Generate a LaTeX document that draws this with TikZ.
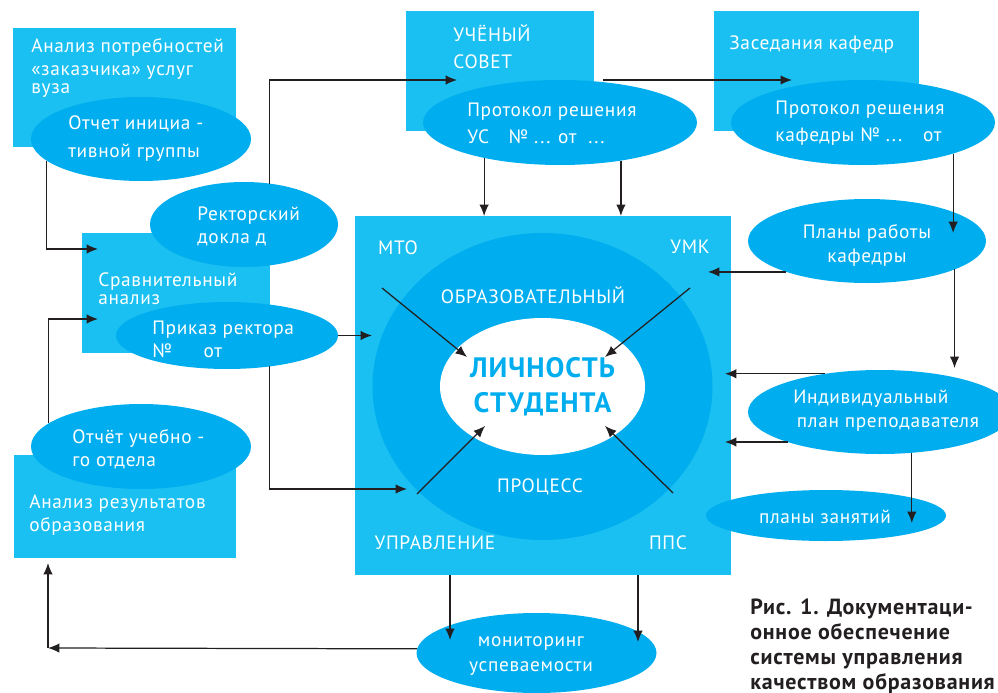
\documentclass[tikz,border=0pt]{standalone}
\usepackage{fontspec}
\setmainfont{PT Sans}[LetterSpace=3.5]
\usetikzlibrary{shapes.geometric,arrows.meta}
\definecolor{boxblue}{HTML}{19C0F1}
\definecolor{ovalblue}{HTML}{00ADEE}
\definecolor{linegray}{HTML}{231F20}
\tikzset{>={Latex[length=6.5pt,width=5.4pt]},
  wh/.style 2 args={minimum width=#1*0.02cm, minimum height=#2*0.02cm},
  box/.style={rectangle, fill=boxblue, inner sep=0pt, outer sep=0pt},
  oval/.style={ellipse, fill=ovalblue, inner sep=0pt, outer sep=0pt},
  txt/.style={text=white, font=\fontsize{11}{13}\selectfont, align=left, inner sep=0pt, anchor=west},
  tag/.style={text=white, font=\fontsize{11}{13}\selectfont, inner sep=0pt},
  flow/.style={->, draw=linegray, line width=0.7pt}}

\begin{document}
\begin{tikzpicture}[x=0.02cm, y=-0.02cm]
  \useasboundingbox (0,0) rectangle (998,693);

  % boxes
  \node[box, wh={223}{119}] (potreb) at (124.5,87.5) {};
  \node[box, wh={188}{120}] (sravn) at (176,293) {};
  \node[box, wh={222}{103}] (rezult) at (125,506.5) {};
  \node[box, wh={188}{120}] (sovet) at (500,71) {};
  \node[box, wh={205}{120}] (zased) at (816.5,71) {};
  \node[box, wh={376}{359}] (core) at (543,395.5) {};

  % ring and centre
  \node[oval, wh={340}{307}] (ring) at (542.5,386.5) {};
  \node[ellipse, fill=white, inner sep=0pt, wh={205}{137}, text=ovalblue,
        align=center, font=\bfseries\fontsize{16}{20}\selectfont] (person) at (542.5,386.5)
        {ЛИЧНОСТЬ\\СТУДЕНТА};

  % ovals
  \node[oval, wh={220}{84}] (otig) at (141,139) {};
  \node[oval, wh={188}{85}] (rektor) at (244,224.5) {};
  \node[oval, wh={222}{67}] (prikaz) at (227,335.5) {};
  \node[oval, wh={220}{85}] (otuo) at (141,446.5) {};
  \node[oval, wh={274}{85}] (usp) at (560,122.5) {};
  \node[oval, wh={264}{85}] (kafp) at (863,122.5) {};
  \node[oval, wh={238}{84}] (plany) at (867,241) {};
  \node[oval, wh={264}{84}] (ind) at (880,412) {};
  \node[oval, wh={240}{51}] (planyz) at (826,515.5) {};
  \node[oval, wh={240}{80}] (monit) at (536.5,653) {};

  % texts
  \node[txt] (potrebT) at (31,68) {Анализ потребностей\\«заказчика» услуг\\[-3pt]вуза};
  \node[txt] (otigT) at (68,138.5) {Отчет инициа -\\[2.5pt]тивной группы};
  \node[txt] (rektorT) at (197,226) {Ректорский\\докла д};
  \node[txt] (sravnT) at (98,288.5) {Сравнительный\\[-2.5pt]анализ};
  \node[txt] (prikazT) at (152,339.5) {Приказ ректора\\№\hspace{18pt}от};
  \node[txt] (otuoT) at (72,449.5) {Отчёт учебно -\\го отдела};
  \node[txt] (rezultT) at (29,515) {Анализ результатов\\образования};
  \node[txt] (sovetT) at (453,46.5) {УЧЁНЫЙ\\[2.5pt]СОВЕТ};
  \node[txt] (uspT) at (467,123.5) {Протокол решения\\[2.5pt]УС\hspace{11pt}№ ... от \ ...};
  \node[txt] (zasedT) at (729,45) {Заседания кафедр};
  \node[txt] (kafpT) at (775,123.5) {Протокол решения\\[2.5pt]кафедры № ...\hspace{12pt}от};
  \node[txt, align=center, anchor=center] (planyT) at (867,245.5) {Планы работы\\[1pt]кафедры};
  \node[txt] (indT) at (793,410.5) {Индивидуальный\\[1pt]\hspace{2pt}план преподавателя};
  \node[tag] (planyzT) at (825,517) {планы занятий};
  \node[txt, align=center, anchor=center] (monitT) at (531,656) {мониторинг\\[1.5pt]успеваемости};
  \node[tag] (mto) at (398,248) {МТО};
  \node[tag] (umk) at (690,247) {УМК};
  \node[tag] (obraz) at (533,295) {ОБРАЗОВАТЕЛЬНЫЙ};
  \node[tag] (proc) at (540,487) {ПРОЦЕСС};
  \node[tag] (uprav) at (435,543) {УПРАВЛЕНИЕ};
  \node[tag] (pps) at (668,543) {ППС};
  \node[anchor=west, inner sep=0pt, align=left, text=linegray,
        font=\bfseries\fontsize{12.5}{14.2}\selectfont] (caption) at (750,646)
        {Рис. 1. Документаци-\\онное обеспечение\\системы управления\\качеством образования};

  % arrow ends
  \coordinate (sravnIn1) at (98,249);
  \coordinate (sravnIn2) at (98,319);
  \coordinate (sovetIn) at (457,80);
  \coordinate (zasedIn) at (792,80);
  \coordinate (planyIn) at (953,233);
  \coordinate (umkIn) at (708,272);
  \coordinate (indIn) at (953,368);
  \coordinate (coreIn1) at (725,374);
  \coordinate (coreIn2) at (725,442);
  \coordinate (planyzIn) at (911,523);
  \coordinate (coreIn3) at (372,336);
  \coordinate (coreIn4) at (407,489);
  \coordinate (monitIn1) at (450,640);
  \coordinate (monitIn2) at (638,642);
  \coordinate (turn) at (48,648);
  \coordinate (rezultIn) at (48,563);

  \draw[flow] (otig.193.5) |- (sravnIn1);
  \draw[flow] (otuo.166.5) |- (sravnIn2);
  \draw[flow] (rektor.58.3) |- (sovetIn);
  \draw[flow, shorten <=5pt] (sovet.east |- sovetIn) -- (zasedIn);
  \draw[flow] (usp.205.6) -- (usp.205.6 |- core.north);
  \draw[flow] (usp.-32.3) -- (usp.-32.3 |- core.north);
  \draw[flow] (kafp.-19.3) -- (kafp.-19.3 |- planyIn);
  \draw[flow] (plany.201.2) -- (plany.201.2 -| umkIn);
  \draw[flow] (plany.-18.6) -- (plany.-18.6 |- indIn);
  \draw[flow] (ind.145.9) -- (ind.145.9 -| coreIn1);
  \draw[flow] (ind.198) -- (ind.198 -| coreIn2);
  \draw[flow] (ind.-52.8) -- (ind.-52.8 |- planyzIn);
  \draw[flow] (prikaz.east) -- (prikaz.east -| coreIn3);
  \draw[flow] (prikaz.-36.9) |- (coreIn4);
  \draw[flow] (core.south -| monitIn1) -- (monitIn1);
  \draw[flow] (core.south -| monitIn2) -- (monitIn2);
  \draw[flow] (monit.178) -- (turn);
  \draw[flow] (turn) -- (rezultIn);

  % into the centre
  \coordinate (mtoOut) at (382,288);
  \coordinate (umkOut) at (690,288);
  \coordinate (upravOut) at (417,494);
  \coordinate (ppsOut) at (673,493);
  \coordinate (mtoTip) at (467,357);
  \coordinate (umkTip) at (605,357);
  \coordinate (upravTip) at (485,426);
  \coordinate (ppsTip) at (605,426);
  \draw[flow] (mtoOut) -- (mtoTip);
  \draw[flow] (umkOut) -- (umkTip);
  \draw[flow] (upravOut) -- (upravTip);
  \draw[flow] (ppsOut) -- (ppsTip);
\end{tikzpicture}
\end{document}
